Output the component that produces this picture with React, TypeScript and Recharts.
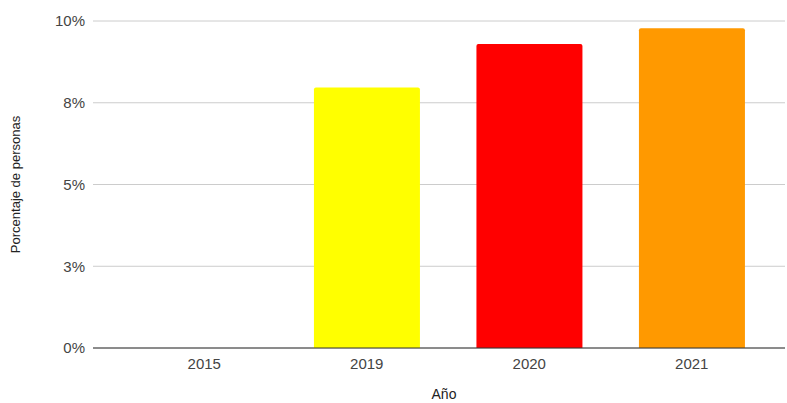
import { BarChart, Bar, XAxis, YAxis, CartesianGrid, Cell } from "recharts"

const years = ["2015", "2019", "2020", "2021"]
const percentages = [0, 7.97, 9.3, 9.78]
const barColors = ["#3366cc", "#ffff00", "#ff0000", "#ff9900"]
const yTicks = [0, 2.5, 5, 7.5, 10]

const data = years.map((year, i) => ({ year, value: percentages[i] }))

const font = "Arial, 'Liberation Sans', sans-serif"

export default function App() {
  return (
    <div style={{ position: "absolute", left: 0, top: 0, background: "#fff" }}>
      <BarChart
        width={787}
        height={403}
        data={data}
        margin={{ top: 21, right: 2, bottom: 0, left: 0 }}
        barCategoryGap="17.5%"
      >
        <CartesianGrid vertical={false} stroke="#cccccc" />
        <XAxis
          dataKey="year"
          height={55}
          padding={{ left: 30, right: 12 }}
          axisLine={{ stroke: "#333333", strokeWidth: 1 }}
          tickLine={false}
          tickMargin={4}
          tick={{ fontSize: 15, fill: "#444444", fontFamily: font }}
          label={{
            value: "Año",
            position: "insideBottom",
            offset: 4,
            dx: 5,
            style: { fontSize: 14, fill: "#222222", fontFamily: font },
          }}
        />
        <YAxis
          width={93}
          domain={[0, 10]}
          ticks={yTicks}
          tickFormatter={(v: number) => `${Math.round(v)}%`}
          axisLine={false}
          tickLine={false}
          tickMargin={2}
          tick={{ fontSize: 15, fill: "#444444", fontFamily: font }}
          label={{
            value: "Porcentaje de personas",
            angle: -90,
            position: "insideLeft",
            offset: 15,
            style: { fontSize: 13, fill: "#222222", fontFamily: font, textAnchor: "middle" },
          }}
        />
        <Bar dataKey="value" radius={[2, 2, 0, 0]} isAnimationActive={false}>
          {data.map((entry, i) => (
            <Cell key={entry.year} fill={barColors[i]} />
          ))}
        </Bar>
      </BarChart>
    </div>
  )
}
